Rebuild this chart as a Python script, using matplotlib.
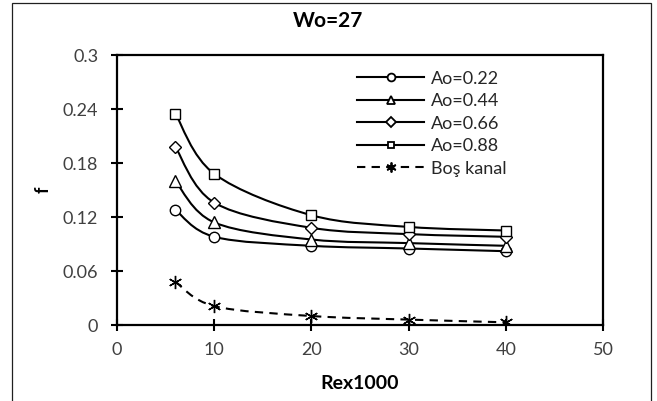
import matplotlib
matplotlib.use("Agg")
import matplotlib.pyplot as plt
from matplotlib.path import Path
from matplotlib.patches import PathPatch, Rectangle
from matplotlib.lines import Line2D
import numpy as np

plt.rcParams['font.family'] = ['Lato', 'DejaVu Sans']

# Rex1000 values and friction factor f for each case
re_x = [6, 10, 20, 30, 40]
f_022 = [0.128, 0.098, 0.088, 0.085, 0.082]
f_044 = [0.160, 0.114, 0.095, 0.091, 0.088]
f_066 = [0.198, 0.136, 0.108, 0.101, 0.098]
f_088 = [0.235, 0.168, 0.122, 0.109, 0.105]
f_bos = [0.048, 0.021, 0.010, 0.006, 0.003]

labels = ['Ao=0.22', 'Ao=0.44', 'Ao=0.66', 'Ao=0.88', 'Boş kanal']
x_ticks = [0, 10, 20, 30, 40, 50]
y_ticks = [0, 0.06, 0.12, 0.18, 0.24, 0.3]
y_tick_labels = ['0', '0.06', '0.12', '0.18', '0.24', '0.3']


def smooth_path(x, y):
    # Excel-style smoothed line: cubic Bezier through the points
    pts = np.column_stack([x, y]).astype(float)
    n = len(pts)
    verts = [pts[0]]
    codes = [Path.MOVETO]
    for i in range(n - 1):
        p0 = pts[i - 1] if i > 0 else pts[i]
        p1 = pts[i]
        p2 = pts[i + 1]
        p3 = pts[i + 2] if i + 2 < n else pts[i + 1]
        c1 = p1 + (p2 - p0) / 6.0
        c2 = p2 - (p3 - p1) / 6.0
        verts += [c1, c2, p2]
        codes += [Path.CURVE4] * 3
    return Path(verts, codes)


fig = plt.figure(figsize=(6.57, 4.01), dpi=100)
ax = fig.add_axes([117 / 657, 1 - 325 / 401, 486 / 657, 270 / 401])

series = [f_022, f_044, f_066, f_088, f_bos]
markers = ['o', '^', 'D', 's', (6, 2, 0)]
msizes = [7.5, 8.5, 6.5, 6.5, 9.5]
styles = ['-', '-', '-', '-', (0, (4, 3))]

handles = []
for vals, mk, ms, ls, lab in zip(series, markers, msizes, styles, labels):
    patch = PathPatch(smooth_path(re_x, vals), facecolor='none', edgecolor='black',
                      lw=1.5, linestyle=ls, zorder=2)
    ax.add_patch(patch)
    ax.plot(re_x, vals, linestyle='none', marker=mk, markersize=ms,
            markerfacecolor='white', markeredgecolor='black', markeredgewidth=1.0,
            zorder=3)
    handles.append(Line2D([0], [0], color='black', lw=1.5, linestyle=ls, marker=mk,
                          markersize=ms * 0.75, markerfacecolor='white',
                          markeredgecolor='black', markeredgewidth=1.3, label=lab))

ax.set_xlim(0, 50)
ax.set_ylim(0, 0.3)
ax.set_xticks(x_ticks)
ax.set_yticks(y_ticks)
ax.set_yticklabels(y_tick_labels)
ax.tick_params(direction='inout', length=9, width=1.5, labelsize=13,
               colors='black', labelcolor='#404040')
ax.tick_params(axis='y', pad=9)
ax.tick_params(axis='x', pad=8)

for sp in ax.spines.values():
    sp.set_linewidth(1.6)
    sp.set_color('black')

ax.set_xlabel('Rex1000', fontsize=14, fontweight='bold', labelpad=12)
ax.set_ylabel('f', fontsize=13, fontweight='bold')
ax.yaxis.set_label_coords(-0.135, 0.5)
fig.text(0.5, 1 - 21 / 401, 'Wo=27', ha='center', va='center',
         fontsize=15, fontweight='bold')

ax.legend(handles=handles, loc='upper left', bbox_to_anchor=(0.465, 0.995),
          frameon=False, fontsize=13, handlelength=3.7, labelspacing=0.36,
          handletextpad=0.35, labelcolor='#262626', borderpad=0.3)

# thin frame around the whole chart
fig.patches.append(Rectangle((12 / 657, -0.02), (651 - 12) / 657, 1 - 3 / 401 + 0.02,
                             transform=fig.transFigure, fill=False,
                             edgecolor='#202020', lw=0.9))

fig.savefig('out.png', dpi=100)
